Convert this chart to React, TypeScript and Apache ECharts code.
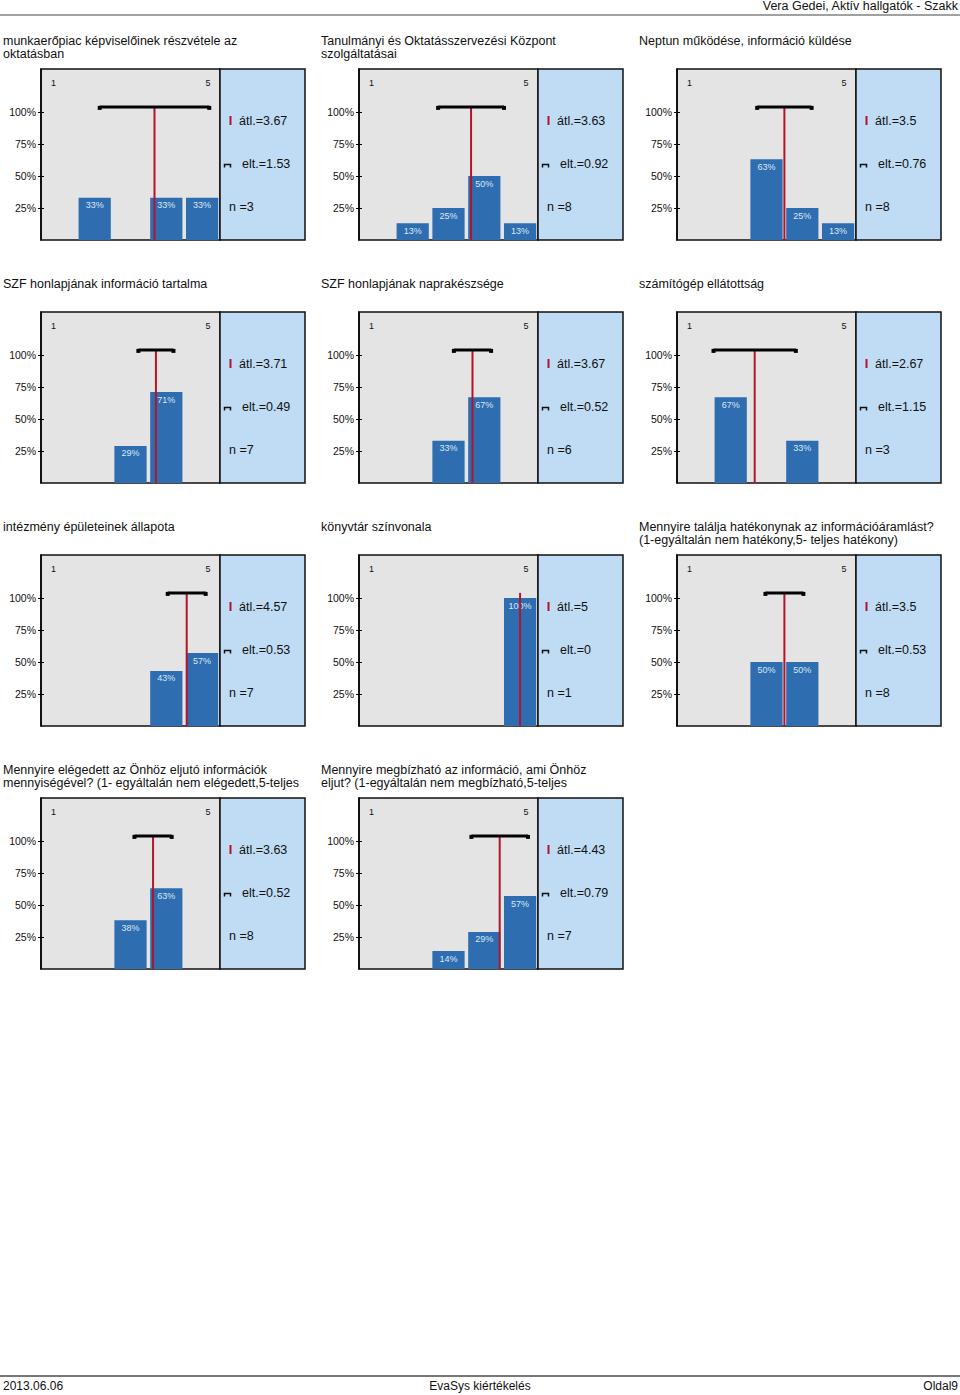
import React, { useEffect, useRef } from "react";
import * as echarts from "echarts";

const FONT = "'Liberation Sans', Arial, Helvetica, sans-serif";

const titles: string[] = [
  "munkaerőpiac képviselőinek részvétele az\noktatásban",
  "Tanulmányi és Oktatásszervezési Központ\nszolgáltatásai",
  "Neptun működése, információ küldése",
  "SZF honlapjának információ tartalma",
  "SZF honlapjának naprakészsége",
  "számítógép ellátottság",
  "intézmény épületeinek állapota",
  "könyvtár színvonala",
  "Mennyire találja hatékonynak az információáramlást?\n(1-egyáltalán nem hatékony,5- teljes hatékony)",
  "Mennyire elégedett az Önhöz eljutó információk\nmennyiségével? (1- egyáltalán nem elégedett,5-teljes",
  "Mennyire megbízható az információ, ami Önhöz\neljut? (1-egyáltalán nem megbízható,5-teljes",
];

const scale = ["1", "2", "3", "4", "5"];

// percentage distribution over the 1..5 scale
const dist: number[][] = [
  [0, 33, 0, 33, 33],
  [0, 13, 25, 50, 13],
  [0, 0, 63, 25, 13],
  [0, 0, 29, 71, 0],
  [0, 0, 33, 67, 0],
  [0, 67, 0, 33, 0],
  [0, 0, 0, 43, 57],
  [0, 0, 0, 0, 100],
  [0, 0, 50, 50, 0],
  [0, 0, 38, 63, 0],
  [0, 0, 14, 29, 57],
];

const means: number[] = [3.67, 3.63, 3.5, 3.71, 3.67, 2.67, 4.57, 5, 3.5, 3.63, 4.43];
const sds: number[] = [1.53, 0.92, 0.76, 0.49, 0.52, 1.15, 0.53, 0, 0.53, 0.52, 0.79];
const ns: number[] = [3, 8, 8, 7, 6, 3, 7, 1, 8, 8, 7];

const yTicks: number[] = [25, 50, 75, 100];
const bracketLevel = 104;
const yMax = 133.6;

const headerText = "Vera Gedei, Aktív hallgatók - Szakk";
const footerLeft = "2013.06.06";
const footerCenter = "EvaSys kiértékelés";
const footerRight = "Oldal9";

// layout
const colX = [41, 359, 677];
const rowY = [69, 312, 555, 798];
const GW = 179;
const GH = 171;
const BW = 85;

const BAR = "#2e6db0";
const GREY = "#e4e4e4";
const BLUE = "#bfdcf4";
const RED = "#b3142c";

export default function App() {
  const ref = useRef<HTMLDivElement>(null);

  useEffect(() => {
    if (!ref.current) return;
    const chart = echarts.init(ref.current, undefined, { renderer: "svg" });

    const grid: any[] = [];
    const xAxis: any[] = [];
    const yAxis: any[] = [];
    const series: any[] = [];
    const graphic: any[] = [];

    // header / footer
    graphic.push(
      {
        type: "text",
        style: { x: 958, y: 6, text: headerText, fill: "#111", font: `12.5px ${FONT}`, textAlign: "right", textVerticalAlign: "middle" },
      },
      { type: "line", shape: { x1: 0, y1: 15, x2: 960, y2: 15 }, style: { stroke: "#444", lineWidth: 1.2 } },
      { type: "line", shape: { x1: 0, y1: 1376, x2: 960, y2: 1376 }, style: { stroke: "#777", lineWidth: 2 } },
      {
        type: "text",
        style: { x: 3, y: 1386, text: footerLeft, fill: "#111", font: `12px ${FONT}`, textAlign: "left", textVerticalAlign: "middle" },
      },
      {
        type: "text",
        style: { x: 480, y: 1386, text: footerCenter, fill: "#111", font: `12px ${FONT}`, textAlign: "center", textVerticalAlign: "middle" },
      },
      {
        type: "text",
        style: { x: 958, y: 1386, text: footerRight, fill: "#111", font: `12px ${FONT}`, textAlign: "right", textVerticalAlign: "middle" },
      }
    );

    titles.forEach((title, i) => {
      const L = colX[i % 3];
      const T = rowY[Math.floor(i / 3)];
      const D = L + GW;

      grid.push({
        left: L,
        top: T,
        width: GW,
        height: GH,
        show: true,
        backgroundColor: GREY,
        borderColor: "#111",
        borderWidth: 1.5,
        containLabel: false,
      });

      xAxis.push(
        { type: "category", gridIndex: i, data: scale, show: false, boundaryGap: true },
        { type: "value", gridIndex: i, min: 0.5, max: 5.5, show: false }
      );

      yAxis.push(
        {
          type: "value",
          gridIndex: i,
          min: 0,
          max: yMax,
          position: "left",
          axisLine: { show: true, lineStyle: { color: "#000", width: 1.5 } },
          axisTick: { show: true, length: 3, customValues: yTicks, lineStyle: { color: "#000", width: 1 } },
          axisLabel: {
            show: true,
            customValues: yTicks,
            formatter: "{value}%",
            margin: 5,
            fontSize: 10.5,
            color: "#111",
            fontFamily: FONT,
          },
          splitLine: { show: false },
        },
        {
          type: "value",
          gridIndex: i,
          min: 0,
          max: yMax,
          position: "left",
          axisLine: { show: false },
          axisTick: { show: true, inside: true, length: 3, customValues: yTicks, lineStyle: { color: "#000", width: 1 } },
          axisLabel: { show: false },
          splitLine: { show: false },
        }
      );

      series.push({
        type: "bar",
        xAxisIndex: 2 * i,
        yAxisIndex: 2 * i,
        data: dist[i],
        barCategoryGap: "10%",
        itemStyle: { color: BAR },
        label: {
          show: true,
          position: "insideTop",
          distance: 3,
          fontSize: 9,
          fontFamily: FONT,
          color: "#dce7f4",
          formatter: (p: any) => (p.value > 0 ? `${p.value}%` : ""),
        },
        z: 2,
      });

      series.push({
        type: "line",
        xAxisIndex: 2 * i + 1,
        yAxisIndex: 2 * i,
        data: [
          [means[i], 0],
          [means[i], bracketLevel],
        ],
        symbol: "none",
        clip: false,
        lineStyle: { color: RED, width: 2 },
        z: 5,
      });

      if (sds[i] > 0) {
        series.push({
          type: "line",
          xAxisIndex: 2 * i + 1,
          yAxisIndex: 2 * i,
          data: [
            [means[i] - sds[i], bracketLevel],
            [means[i] + sds[i], bracketLevel],
          ],
          symbol: "rect",
          symbolSize: [4, 4],
          symbolOffset: [0, 1],
          clip: false,
          itemStyle: { color: "#000" },
          lineStyle: { color: "#000", width: 3 },
          z: 6,
        });
      }

      // title
      graphic.push({
        type: "text",
        style: {
          x: L - 38,
          y: T - 34,
          text: title,
          fill: "#111",
          font: `12.5px ${FONT}`,
          lineHeight: 12.5,
          textAlign: "left",
          textVerticalAlign: "top",
        },
      });

      // scale end labels
      graphic.push(
        {
          type: "text",
          style: { x: L + 12.5, y: T + 13.5, text: scale[0], fill: "#111", font: `9px ${FONT}`, textAlign: "center", textVerticalAlign: "middle" },
          z: 10,
        },
        {
          type: "text",
          style: { x: L + 167, y: T + 13.5, text: scale[4], fill: "#111", font: `9px ${FONT}`, textAlign: "center", textVerticalAlign: "middle" },
          z: 10,
        }
      );

      // stats panel
      graphic.push({
        type: "rect",
        shape: { x: D, y: T, width: BW, height: GH },
        style: { fill: BLUE, stroke: "#111", lineWidth: 1.5 },
        z: 1,
      });
      graphic.push(
        {
          type: "line",
          shape: { x1: D + 10.5, y1: T + 47, x2: D + 10.5, y2: T + 56 },
          style: { stroke: RED, lineWidth: 2 },
          z: 10,
        },
        {
          type: "text",
          style: {
            x: D + 19,
            y: T + 51.5,
            text: `átl.=${means[i]}`,
            fill: "#111",
            font: `12.5px ${FONT}`,
            textAlign: "left",
            textVerticalAlign: "middle",
          },
          z: 10,
        },
        {
          type: "polyline",
          shape: {
            points: [
              [D + 4.5, T + 98.5],
              [D + 4.5, T + 95.5],
              [D + 10.5, T + 95.5],
              [D + 10.5, T + 98.5],
            ],
          },
          style: { stroke: "#111", lineWidth: 1.5, fill: null },
          z: 10,
        },
        {
          type: "text",
          style: {
            x: D + 22,
            y: T + 94.5,
            text: `elt.=${sds[i]}`,
            fill: "#111",
            font: `12.5px ${FONT}`,
            textAlign: "left",
            textVerticalAlign: "middle",
          },
          z: 10,
        },
        {
          type: "text",
          style: {
            x: D + 9,
            y: T + 137.5,
            text: `n =${ns[i]}`,
            fill: "#111",
            font: `12.5px ${FONT}`,
            textAlign: "left",
            textVerticalAlign: "middle",
          },
          z: 10,
        }
      );
    });

    chart.setOption({
      animation: false,
      backgroundColor: "#ffffff",
      textStyle: { fontFamily: FONT },
      grid,
      xAxis,
      yAxis,
      series,
      graphic,
    });

    return () => chart.dispose();
  }, []);

  return (
    <div
      ref={ref}
      style={{ position: "absolute", left: 0, top: 0, width: 960, height: 1395 }}
    />
  );
}
